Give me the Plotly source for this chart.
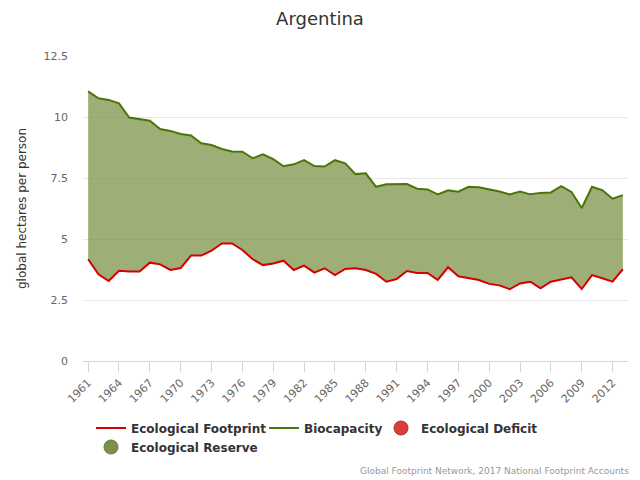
import plotly.graph_objects as go

years = list(range(1961, 2014))

footprint = [4.17, 3.55, 3.28, 3.70, 3.67, 3.67, 4.03, 3.96, 3.73, 3.81,
             4.32, 4.32, 4.52, 4.82, 4.82, 4.55, 4.17, 3.93, 4.00, 4.11,
             3.73, 3.91, 3.62, 3.80, 3.52, 3.77, 3.80, 3.73, 3.57, 3.25,
             3.36, 3.69, 3.61, 3.61, 3.32, 3.84, 3.47, 3.39, 3.32, 3.16,
             3.10, 2.94, 3.18, 3.25, 2.98, 3.25, 3.35, 3.43, 2.95, 3.52,
             3.39, 3.25, 3.76]

biocapacity = [11.05, 10.77, 10.70, 10.56, 9.98, 9.93, 9.85, 9.51, 9.43, 9.30,
               9.24, 8.92, 8.85, 8.69, 8.59, 8.58, 8.31, 8.47, 8.27, 7.98,
               8.06, 8.23, 7.99, 7.97, 8.23, 8.10, 7.66, 7.69, 7.14, 7.24,
               7.23, 7.25, 7.06, 7.03, 6.83, 7.00, 6.94, 7.14, 7.12, 7.05,
               6.95, 6.83, 6.95, 6.83, 6.89, 6.91, 7.17, 6.93, 6.27, 7.14,
               7.00, 6.65, 6.80]

tick_years = list(range(1961, 2014, 3))
y_ticks = [0, 2.5, 5, 7.5, 10, 12.5]
y_tick_labels = ["0", "2.5", "5", "7.5", "10", "12.5"]

upper = [max(f, b) for f, b in zip(footprint, biocapacity)]

RED = "#d40000"
GREEN = "#4b7508"
RESERVE_FILL = "rgba(124,147,74,0.75)"
DEFICIT_FILL = "rgba(220,50,50,0.75)"
FONT = "DejaVu Sans"

fig = go.Figure()

# Reserve: area between footprint and max(footprint, biocapacity)
fig.add_trace(go.Scatter(x=years, y=footprint, mode="lines", line=dict(width=0),
                         showlegend=False, hoverinfo="skip"))
fig.add_trace(go.Scatter(x=years, y=upper, mode="lines", line=dict(width=0),
                         fill="tonexty", fillcolor=RESERVE_FILL,
                         showlegend=False, hoverinfo="skip"))
# Deficit: area between biocapacity and max(footprint, biocapacity)
fig.add_trace(go.Scatter(x=years, y=biocapacity, mode="lines", line=dict(width=0),
                         showlegend=False, hoverinfo="skip"))
fig.add_trace(go.Scatter(x=years, y=upper, mode="lines", line=dict(width=0),
                         fill="tonexty", fillcolor=DEFICIT_FILL,
                         showlegend=False, hoverinfo="skip"))

fig.add_trace(go.Scatter(x=years, y=footprint, mode="lines", name="Ecological Footprint",
                         line=dict(color=RED, width=2), legend="legend",
                         legendwidth=128))
fig.add_trace(go.Scatter(x=years, y=biocapacity, mode="lines", name="Biocapacity",
                         line=dict(color=GREEN, width=2), legend="legend",
                         legendwidth=72))
fig.add_trace(go.Scatter(x=[None], y=[None], mode="markers", name="Ecological Deficit",
                         marker=dict(color="#dd3c3c", size=14,
                                     line=dict(color="#b02a2a", width=1)),
                         legend="legend"))
fig.add_trace(go.Scatter(x=[None], y=[None], mode="markers", name="Ecological Reserve",
                         marker=dict(color="#7a914a", size=14,
                                     line=dict(color="#66793d", width=1)),
                         legend="legend2"))

legend_common = dict(orientation="h", xanchor="left", yanchor="middle",
                     traceorder="normal",
                     font=dict(family=FONT, size=12, color="#333333", weight="bold"),
                     bgcolor="rgba(0,0,0,0)", itemclick=False, itemdoubleclick=False,
                     tracegroupgap=0)

fig.update_layout(
    width=640, height=480,
    margin=dict(l=83, r=12, t=56, b=119, autoexpand=False),
    paper_bgcolor="white", plot_bgcolor="white",
    font=dict(family=FONT, color="#666666"),
    title=dict(text="Argentina", x=0.5, xanchor="center", y=0.962, yanchor="middle",
               font=dict(family=FONT, size=18, color="#333333")),
    xaxis=dict(range=[1960.5, 2013.5], tickmode="array", tickvals=tick_years,
               ticktext=[str(y) for y in tick_years], tickangle=-45,
               ticks="outside", ticklen=10, tickcolor="#ccd6eb",
               showline=True, linecolor="#ccd6eb", linewidth=1,
               showgrid=False, zeroline=False,
               tickfont=dict(family=FONT, size=11, color="#666666")),
    yaxis=dict(range=[0, 12.5], tickmode="array", tickvals=y_ticks, ticktext=y_tick_labels,
               showgrid=True, gridcolor="#e6e6e6", gridwidth=1, zeroline=False,
               showline=False, ticks="", ticklabelstandoff=14,
               tickfont=dict(family=FONT, size=11, color="#666666"),
               title=dict(text="global hectares per person", standoff=14,
                          font=dict(family=FONT, size=12, color="#333333"))),
    legend=dict(x=0.0147, y=-0.2197, **legend_common),
    legend2=dict(x=0.0147, y=-0.282, **legend_common),
    annotations=[dict(text="Global Footprint Network, 2017 National Footprint Accounts",
                      xref="paper", yref="paper", x=1.005, y=-0.338,
                      xanchor="right", yanchor="top", showarrow=False,
                      font=dict(family=FONT, size=9, color="#999999"))],
)

fig.write_html("out.html")
